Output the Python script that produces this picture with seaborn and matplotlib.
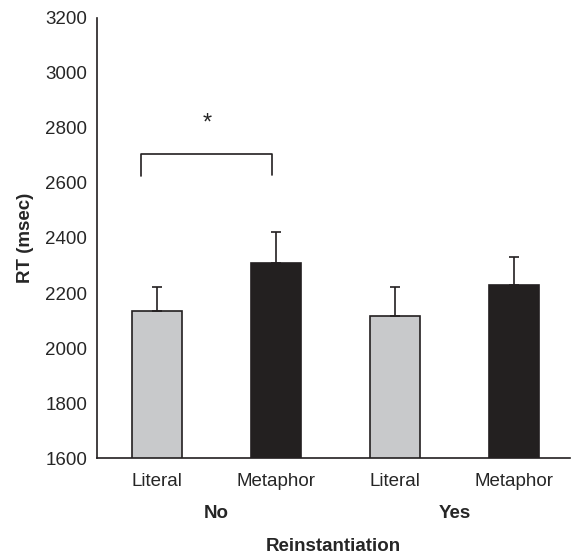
import matplotlib
matplotlib.use("Agg")
import matplotlib.pyplot as plt
import matplotlib.transforms as mtransforms
import seaborn as sns
import pandas as pd

groups = ["No", "No", "Yes", "Yes"]
conditions = ["Literal", "Metaphor", "Literal", "Metaphor"]
rt_means = [2134, 2310, 2117, 2228]
rt_err = [87, 111, 104, 102]
colors = ["#c8c9cb", "#231f20", "#c8c9cb", "#231f20"]
group_labels = ["No", "Yes"]
yticks = [1600, 1800, 2000, 2200, 2400, 2600, 2800, 3000, 3200]

keys = [f"{g}-{c}" for g, c in zip(groups, conditions)]
df = pd.DataFrame({"key": keys, "rt": rt_means})

sns.set_style("white")
plt.rcParams["font.family"] = ["Liberation Sans", "DejaVu Sans"]

FS = 13.5
fig = plt.figure(figsize=(5.71, 5.60), dpi=100)
ax = fig.add_axes([0.170, 0.182, 0.829, 0.786])

sns.barplot(data=df, x="key", y="rt", hue="key", palette=colors, order=keys,
            width=0.42, edgecolor="#231f20", linewidth=1.2, legend=False,
            errorbar=None, ax=ax)

xs = list(range(len(keys)))
ax.errorbar(xs, rt_means, yerr=[[0] * 4, rt_err], fmt="none",
            ecolor="#231f20", elinewidth=1.2, capsize=3.6, capthick=1.2, zorder=3)

ax.set_ylim(1600, 3200)
ax.set_xlim(-0.5, 3.47)
ax.set_yticks(yticks)
ax.set_yticklabels([str(t) for t in yticks], fontsize=FS)
ax.set_xticks(xs)
ax.set_xticklabels(conditions, fontsize=FS)
ax.tick_params(axis="y", direction="out", length=5, width=1, color="#231f20", pad=2)
ax.tick_params(axis="x", length=0, pad=11)

for s in ["top", "right"]:
    ax.spines[s].set_visible(False)
for s in ["left", "bottom"]:
    ax.spines[s].set_color("#231f20")
    ax.spines[s].set_linewidth(1.2)

ax.set_ylabel("RT (msec)", fontsize=FS, fontweight="bold", labelpad=8)
ax.set_xlabel("Reinstantiation", fontsize=FS, fontweight="bold", labelpad=34)

trans = mtransforms.blended_transform_factory(ax.transData, fig.transFigure)
for i, g in enumerate(group_labels):
    ax.text(2 * i + 0.5, 1 - 513 / 560, g, transform=trans, ha="center", va="center",
            fontsize=FS, fontweight="bold")

# significance bracket
bx0, bx1 = -0.128, 0.968
ax.plot([bx0, bx0, bx1, bx1], [2625, 2704, 2704, 2630], color="#231f20", lw=1.2)
ax.text((bx0 + bx1) / 2, 2815, "*", ha="center", va="center", fontsize=17)

fig.savefig("out.png", dpi=100)
